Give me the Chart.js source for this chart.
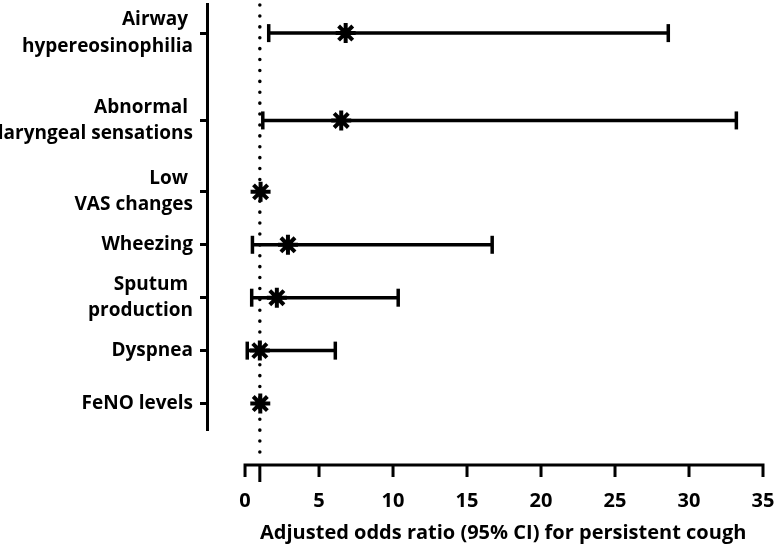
<!DOCTYPE html>
<html lang="en">
<head>
    <meta charset="utf-8">
    <title>Adjusted odds ratio for persistent cough</title>
    <script src="https://cdn.jsdelivr.net/npm/chart.js@4.4.1/dist/chart.umd.min.js"></script>
    <style>
        body { margin: 0; background: #fff; }
        #wrap { width: 780px; height: 551px; }
    </style>
</head>
<body>

<div id="wrap">
    <canvas id="chart" width="780" height="551"></canvas>
</div>

<script>
// row labels, top to bottom
var labels = [
    ['Airway ', 'hypereosinophilia'],
    ['Abnormal ', 'laryngeal sensations'],
    ['Low ', 'VAS changes'],
    'Wheezing',
    ['Sputum ', 'production'],
    'Dyspnea',
    'FeNO levels'
];
// row position on the y scale (original plot spacing)
var rowPos = [8, 6.35, 5, 4, 3, 2, 1];
// adjusted odds ratio and 95% CI
var oddsRatio = [6.8, 6.5, 1.05, 2.9, 2.15, 1.0, 1.03];
var ciLow  = [1.6, 1.2, null, 0.5, 0.45, 0.15, null];
var ciHigh = [28.6, 33.2, null, 16.7, 10.35, 6.1, null];
var xTicks = [0, 5, 10, 15, 20, 25, 30, 35];
var refValue = 1;
var xTitle = 'Adjusted odds ratio (95% CI) for persistent cough';

var fontFamily = '"Open Sans", "Liberation Sans", sans-serif';

var datasets = [];
datasets.push({
    label: 'OR',
    data: oddsRatio.map(function(v, i) { return { x: v, y: rowPos[i] }; }),
    pointStyle: 'star',
    pointRadius: 10,
    pointBorderWidth: 4,
    borderColor: '#000',
    backgroundColor: '#000',
    showLine: false
});
for (var i = 0; i < labels.length; i++) {
    if (ciLow[i] === null) continue;
    datasets.push({
        label: 'CI ' + i,
        data: [{ x: ciLow[i], y: rowPos[i] }, { x: ciHigh[i], y: rowPos[i] }],
        showLine: true,
        borderColor: '#000',
        borderWidth: 3.5,
        pointStyle: 'line',
        pointRotation: 90,
        pointRadius: 9,
        pointBorderWidth: 3.5,
        pointBorderColor: '#000'
    });
}

function noPadding(scale) {
    scale.paddingLeft = 0;
    scale.paddingRight = 0;
    scale.paddingTop = 0;
    scale.paddingBottom = 0;
}

// x axis line sits below the plot, plus the dotted line at OR = 1
var axesPlugin = {
    id: 'axesPlugin',
    afterDraw: function(chart) {
        var ctx = chart.ctx;
        var xs = chart.scales.x;
        var area = chart.chartArea;
        var axisY = area.bottom + 35;
        ctx.save();
        ctx.strokeStyle = '#000';
        ctx.lineWidth = 3;
        ctx.lineCap = 'butt';
        ctx.beginPath();
        ctx.moveTo(xs.getPixelForValue(xTicks[0]) - 1.5, axisY);
        ctx.lineTo(xs.getPixelForValue(xTicks[xTicks.length - 1]) + 1.5, axisY);
        xTicks.forEach(function(t) {
            var px = xs.getPixelForValue(t);
            ctx.moveTo(px, axisY);
            ctx.lineTo(px, axisY + 12);
        });
        var rx = xs.getPixelForValue(refValue);
        ctx.moveTo(rx, axisY);
        ctx.lineTo(rx, axisY + 17);
        ctx.stroke();

        ctx.lineWidth = 3.5;
        ctx.lineCap = 'round';
        ctx.setLineDash([0.1, 10.8]);
        ctx.beginPath();
        ctx.moveTo(rx, area.top + 1);
        ctx.lineTo(rx, axisY - 4);
        ctx.stroke();
        ctx.restore();
    }
};

var ctx = document.getElementById('chart').getContext('2d');
var myChart = new Chart(ctx, {
    type: 'scatter',
    data: { datasets: datasets },
    options: {
        responsive: false,
        animation: false,
        layout: { autoPadding: false, padding: { top: 4, right: 17, left: 0, bottom: 0 } },
        plugins: {
            legend: { display: false },
            tooltip: { enabled: false }
        },
        scales: {
            x: {
                type: 'linear',
                min: -2.57,
                max: 35,
                afterBuildTicks: function(scale) {
                    scale.ticks = xTicks.map(function(v) { return { value: v }; });
                },
                afterFit: function(scale) {
                    scale.height = 121;
                    noPadding(scale);
                },
                grid: { display: false },
                border: { display: false },
                ticks: {
                    color: '#000',
                    padding: 51,
                    maxRotation: 0,
                    font: { family: fontFamily, size: 20, weight: 'bold' }
                },
                title: {
                    display: true,
                    // leading spaces centre the title under the 0-35 axis line
                    text: '\u00a0\u00a0\u00a0\u00a0\u00a0\u00a0\u00a0' + xTitle,
                    color: '#000',
                    padding: { top: 0, bottom: 6 },
                    font: { family: fontFamily, size: 20, weight: 'bold' }
                }
            },
            y: {
                type: 'linear',
                min: 0.5,
                max: 8.55,
                afterBuildTicks: function(scale) {
                    scale.ticks = rowPos.map(function(v) { return { value: v }; });
                },
                afterFit: function(scale) {
                    scale.width = 207;
                    noPadding(scale);
                },
                grid: {
                    drawOnChartArea: false,
                    drawTicks: true,
                    tickLength: 7,
                    tickColor: '#000',
                    tickWidth: 3
                },
                border: { display: true, color: '#000', width: 3 },
                ticks: {
                    color: '#000',
                    padding: 7,
                    font: { family: fontFamily, size: 19, weight: 'bold', lineHeight: 1.37 },
                    callback: function(value) {
                        return labels[rowPos.indexOf(value)];
                    }
                }
            }
        }
    },
    plugins: [axesPlugin]
});
</script>

</body>
</html>
